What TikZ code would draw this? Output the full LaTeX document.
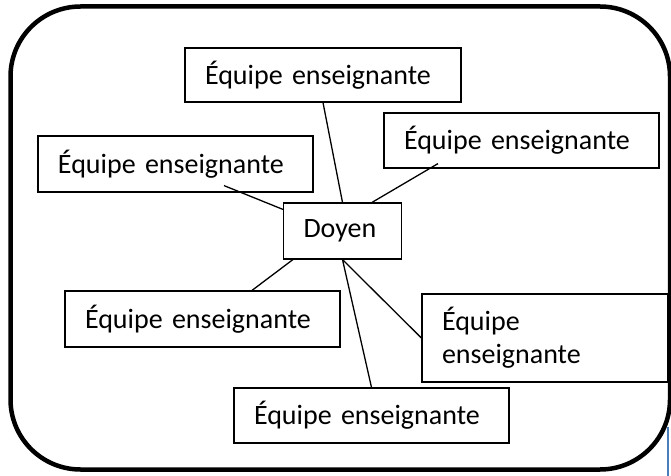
\documentclass[tikz,border=0pt]{standalone}
\usepackage{fontspec}
\setmainfont{Carlito}
\usetikzlibrary{calc}
\definecolor{wordblue}{RGB}{74,126,187}
\tikzset{
  teambox/.style={draw, line width=1.2bp, align=left, inner xsep=20bp, inner ysep=0pt,
    font=\fontsize{28bp}{33bp}\selectfont},
  link/.style={line width=1.3bp},
  frame/.style={line width=4.5bp, rounded corners=70bp}
}
\begin{document}
\begin{tikzpicture}[x=1bp,y=-1bp]
\useasboundingbox (0,0) rectangle (671,476);
\draw[frame] (10.5,6.5) rectangle (670,469.5);
\node[teambox, text width=236bp, minimum height=54bp] (top) at (323,75) {Équipe enseignante};
\node[teambox, text width=235bp, minimum height=56bp] (left) at (175.5,164) {Équipe enseignante};
\node[teambox, text width=235bp, minimum height=55bp] (rtop) at (521.5,140.5) {Équipe enseignante};
\node[teambox, text width=78bp, minimum height=56bp] (doyen) at (342.5,231) {Doyen};
\node[teambox, text width=235bp, minimum height=56bp] (bl) at (202.5,319) {Équipe enseignante};
\node[teambox, text width=206bp, minimum height=88bp] (rb) at (545,338) {Équipe\\enseignante};
\node[teambox, text width=235bp, minimum height=55bp] (bot) at (371.5,415.5) {Équipe enseignante};
\draw[link] (top.south) -- (doyen.north);
\draw[link] ($(left.south)+(48.5,-7)$) -- ($(doyen.north west)+(0,7)$);
\draw[link] ($(rtop.south)+(-83.5,-5)$) -- ($(doyen.north)+(29.5,0)$);
\draw[link] ($(doyen.south west)+(10,0)$) -- ($(bl.north)+(49.5,0)$);
\draw[link] (doyen.south) -- (rb.west);
\draw[link] (doyen.south) -- (bot.north);
\coordinate (blueA) at (668,427);
\coordinate (blueB) at (668,476);
\draw[wordblue, line width=2bp] (blueA) -- (blueB);
\end{tikzpicture}
\end{document}
